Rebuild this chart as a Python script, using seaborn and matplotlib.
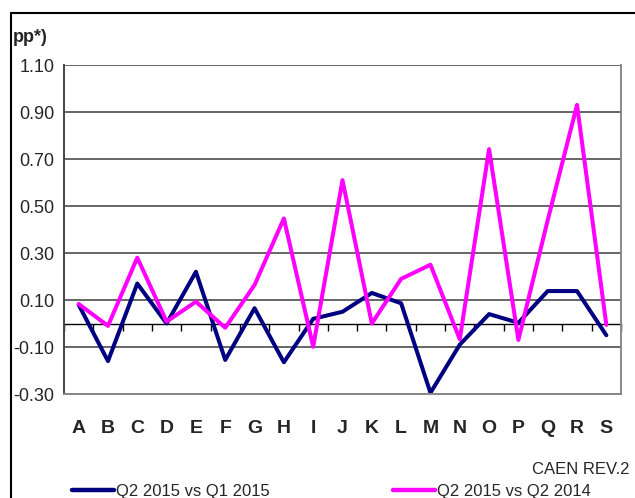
import numpy as np
import pandas as pd
import matplotlib
matplotlib.use("Agg")
import matplotlib.pyplot as plt
import seaborn as sns
from matplotlib.lines import Line2D

categories = ["A", "B", "C", "D", "E", "F", "G", "H", "I", "J",
              "K", "L", "M", "N", "O", "P", "Q", "R", "S"]
q_vs_q = [0.08, -0.16, 0.17, 0.00, 0.22, -0.155, 0.065, -0.165, 0.02, 0.05,
          0.13, 0.086, -0.295, -0.09, 0.04, 0.003, 0.138, 0.138, -0.05]
y_vs_y = [0.083, -0.01, 0.28, 0.008, 0.093, -0.018, 0.164, 0.447, -0.099, 0.61,
          0.00, 0.19, 0.25, -0.067, 0.742, -0.07, 0.44, 0.93, -0.006]
series_names = ["Q2 2015 vs Q1 2015", "Q2 2015 vs Q2 2014"]
y_ticks = [-0.30, -0.10, 0.10, 0.30, 0.50, 0.70, 0.90, 1.10]

sns.set_style("white")
plt.rcParams["font.family"] = ["Liberation Sans Narrow", "Liberation Sans", "DejaVu Sans"]

df = pd.DataFrame({
    "pos": list(range(len(categories))) * 2,
    "value": q_vs_q + y_vs_y,
    "series": [series_names[0]] * len(categories) + [series_names[1]] * len(categories),
})

fig = plt.figure(figsize=(6.35, 4.98), dpi=100)
ax = fig.add_axes([64 / 635, 1 - 394 / 498, (621 - 64) / 635, (394 - 65) / 498])

palette = {series_names[0]: "#000080", series_names[1]: "#FF00FF"}
sns.lineplot(data=df, x="pos", y="value", hue="series", palette=palette,
             ax=ax, sort=False, legend=False, linewidth=2.9)

ax.set_xlim(-0.5, len(categories) - 0.5)
ax.set_ylim(-0.30, 1.10)
ax.set_yticks(y_ticks)
ax.set_yticklabels([f"{v:.2f}" for v in y_ticks], fontsize=13)
ax.yaxis.grid(True, color="#666666", linewidth=1.4)
ax.set_axisbelow(True)
ax.tick_params(axis="y", direction="out", length=5, width=1.2, color="#444444", pad=2)

ax.set_xticks(range(len(categories)))
ax.set_xticklabels(categories, fontsize=14, fontweight="bold")
ax.tick_params(axis="x", length=0, pad=19)

ax.spines["top"].set_visible(False)
ax.spines["right"].set_color("#888888")
ax.spines["right"].set_linewidth(1.4)
ax.spines["bottom"].set_color("#888888")
ax.spines["bottom"].set_linewidth(1.4)
ax.spines["left"].set_color("#444444")
ax.spines["left"].set_linewidth(1.4)
ax.set_xlabel("")
ax.set_ylabel("")

# zero axis with boundary ticks
zero_frac = (0 - (-0.30)) / (1.10 - (-0.30))
sec = ax.secondary_xaxis(zero_frac)
sec.set_xticks(np.arange(-0.5, len(categories), 1.0))
sec.set_xticklabels([])
sec.tick_params(direction="out", length=5, width=1.0, color="black")
sec.spines["bottom"].set_color("black")
sec.spines["bottom"].set_linewidth(1.0)

fig.text(13 / 635, 1 - 37 / 498, "pp*)", fontsize=13, fontweight="bold",
         va="center", ha="left")
fig.text(629 / 635, 1 - 469 / 498, "CAEN REV.2", fontsize=12,
         va="center", ha="right")

handles = [Line2D([], [], color=palette[n], linewidth=3.2) for n in series_names]
fig.legend(handles, series_names, loc="center left",
           bbox_to_anchor=(72 / 635, 1 - 491 / 498), ncol=2, frameon=False,
           fontsize=12, handlelength=2.5, handletextpad=0.15, columnspacing=7.4,
           borderaxespad=0, borderpad=0)

# outer frame
fig.add_artist(Line2D([11 / 635, 1], [1 - 13 / 498, 1 - 13 / 498],
                      transform=fig.transFigure, color="black", linewidth=1.5))
fig.add_artist(Line2D([11 / 635, 11 / 635], [0, 1 - 13 / 498],
                      transform=fig.transFigure, color="black", linewidth=1.5))

fig.savefig("out.png", dpi=100)
